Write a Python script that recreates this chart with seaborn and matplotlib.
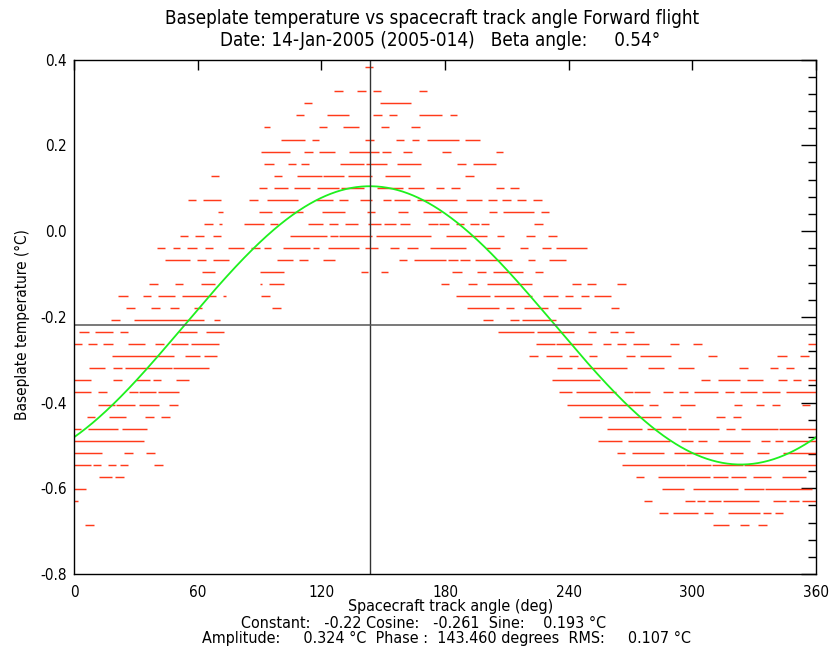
import numpy as np
import pandas as pd
import matplotlib
matplotlib.use("Agg")
import matplotlib.pyplot as plt
import seaborn as sns

# ---------------- data ----------------
# quantized temperature levels (deg C), top to bottom
row_temps = [0.382, 0.354, 0.326, 0.298, 0.270, 0.242, 0.213, 0.185, 0.157, 0.129,
             0.101, 0.073, 0.045, 0.017, -0.011, -0.040, -0.068, -0.096, -0.124, -0.152,
             -0.180, -0.208, -0.236, -0.264, -0.292, -0.320, -0.348, -0.376, -0.405, -0.433,
             -0.461, -0.489, -0.517, -0.545, -0.573, -0.601, -0.630, -0.658, -0.686]

# track-angle spans (deg) occupied by samples at each level
row_spans = [
    [(141.1, 145.0)],
    [],
    [(126.1, 130.5), (137.3, 141.6), (145.0, 148.9), (167.3, 171.2)],
    [(111.6, 115.4), (148.4, 163.4)],
    [(107.7, 111.6), (122.7, 133.4), (145.0, 149.4), (152.8, 156.7), (167.3, 178.5), (182.4, 185.8)],
    [(92.2, 95.1), (118.8, 122.7), (130.5, 138.2), (148.9, 152.8), (163.4, 167.8)],
    [(100.4, 112.0), (115.4, 118.8), (141.1, 145.5), (156.2, 160.1), (163.9, 167.3), (171.2, 186.7), (189.6, 196.9)],
    [(90.7, 104.8), (111.6, 115.9), (118.8, 126.6), (133.4, 147.9), (149.4, 153.7), (159.6, 163.9), (178.5, 182.8), (204.7, 208.1)],
    [(92.2, 97.0), (103.8, 107.7), (110.1, 114.0), (129.0, 140.7), (141.6, 151.8), (156.7, 168.3), (185.8, 190.1), (193.5, 204.7)],
    [(66.4, 70.3), (97.0, 100.9), (108.2, 120.3), (120.8, 131.0), (132.9, 144.5), (150.8, 163.0), (189.6, 194.0)],
    [(89.7, 93.6), (97.0, 103.8), (106.7, 114.5), (117.9, 128.5), (129.5, 140.7), (147.0, 159.6), (162.0, 169.8), (175.6, 179.5), (182.8, 187.2), (204.7, 208.6), (211.5, 215.8)],
    [(55.3, 59.2), (62.6, 71.3), (84.9, 89.2), (93.6, 108.6), (117.4, 125.6), (128.5, 132.9), (138.7, 144.5), (149.9, 153.7), (155.2, 163.0), (166.4, 185.8), (190.1, 197.9), (200.8, 205.2), (207.6, 211.9), (214.9, 219.2), (222.6, 227.0)],
    [(69.8, 72.3), (89.7, 96.0), (99.9, 111.1), (120.3, 131.4), (142.1, 146.0), (157.1, 162.0), (169.3, 178.0), (181.9, 190.6), (201.3, 205.2), (208.1, 223.1), (226.5, 230.4)],
    [(63.1, 67.4), (70.3, 71.8), (82.5, 92.2), (95.1, 99.0), (113.5, 120.8), (123.7, 128.0), (131.4, 137.7), (142.6, 148.9), (150.4, 156.2), (158.1, 163.0), (171.7, 176.5), (177.0, 181.9), (185.3, 189.2), (192.0, 196.4), (197.4, 201.3), (223.1, 227.5)],
    [(51.4, 55.3), (58.7, 63.1), (67.4, 71.3), (104.8, 122.7), (124.2, 128.0), (128.5, 144.5), (146.5, 173.1), (180.4, 200.3), (205.2, 208.6), (219.2, 223.6), (229.9, 234.3)],
    [(40.3, 44.1), (48.0, 51.4), (54.8, 59.7), (63.5, 67.4), (74.7, 82.5), (85.8, 90.2), (92.2, 95.5), (101.4, 114.5), (115.9, 118.8), (123.2, 138.2), (141.1, 147.4), (153.3, 157.6), (161.5, 166.8), (172.7, 190.1), (199.8, 206.6), (216.3, 220.2), (227.0, 231.4), (233.8, 248.8)],
    [(44.1, 56.3), (59.7, 64.0), (67.4, 75.2), (98.5, 106.2), (109.1, 113.5), (120.8, 126.6), (157.6, 161.5), (164.9, 180.4), (181.4, 186.2), (187.2, 192.1), (194.5, 212.4), (220.2, 223.6), (230.4, 238.6)],
    [(62.1, 68.4), (90.2, 101.9), (139.2, 142.6), (148.9, 152.3), (183.3, 188.2), (195.5, 199.8), (203.2, 217.8), (223.6, 227.5)],
    [(36.4, 40.7), (49.0, 52.9), (61.6, 68.4), (90.2, 91.2), (94.6, 101.9), (178.0, 181.9), (191.1, 195.5), (200.3, 222.1), (241.5, 245.9), (248.8, 253.2), (263.4, 267.7)],
    [(21.3, 26.2), (33.5, 37.3), (40.7, 49.0), (52.4, 68.9), (72.3, 73.7), (90.7, 95.1), (185.3, 201.8), (203.7, 222.1), (227.5, 234.7), (238.1, 242.0), (245.9, 249.8), (252.2, 260.4)],
    [(25.2, 29.6), (37.3, 41.7), (46.6, 50.9), (58.2, 62.1), (96.0, 100.4), (190.6, 206.1), (209.5, 213.4), (218.3, 229.9), (234.7, 245.9), (260.4, 264.3)],
    [(17.9, 22.3), (29.1, 63.1), (67.9, 70.8), (198.4, 203.2), (211.5, 215.8), (217.3, 233.8)],
    [(2.4, 7.3), (10.2, 18.9), (22.3, 26.2), (50.9, 59.7), (64.0, 72.8), (205.6, 223.1), (224.6, 242.5), (249.3, 253.2), (260.0, 263.8), (267.2, 271.6)],
    [(0.0, 3.9), (6.8, 11.2), (14.1, 18.9), (26.2, 34.4), (39.3, 43.7), (47.0, 55.3), (56.7, 70.3), (224.1, 233.3), (233.8, 251.2), (256.6, 260.4), (263.4, 267.7), (271.1, 278.8), (289.1, 293.4), (300.2, 304.6), (356.0, 359.9)],
    [(18.4, 48.5), (53.8, 61.1), (63.1, 69.4), (220.7, 225.0), (228.9, 236.7), (240.1, 244.4), (249.8, 253.7), (267.7, 272.1), (274.5, 289.5), (307.5, 311.9), (341.0, 345.8), (352.1, 356.5)],
    [(7.3, 15.0), (18.9, 23.3), (24.7, 47.5), (48.0, 65.5), (234.3, 241.5), (244.0, 268.2), (278.4, 286.2), (293.0, 300.7), (322.6, 327.0), (337.6, 341.4), (345.3, 349.2)],
    [(0.0, 8.2), (18.9, 23.3), (30.1, 36.9), (38.3, 42.2), (49.5, 55.8), (231.8, 255.1), (304.1, 308.5), (312.3, 323.0), (326.4, 334.2), (341.4, 345.8), (348.7, 352.6), (356.0, 360.0)],
    [(0.0, 8.2), (11.6, 16.0), (26.7, 31.0), (31.5, 39.8), (40.7, 50.9), (235.2, 241.5), (243.5, 262.9), (266.8, 271.1), (271.6, 279.4), (285.7, 290.5), (293.4, 297.8), (300.7, 312.3), (315.7, 320.1), (323.0, 331.3), (333.7, 342.4), (345.3, 360.0)],
    [(11.6, 19.9), (20.4, 29.6), (31.5, 41.2), (46.1, 50.4), (239.1, 276.0), (278.9, 283.3), (293.9, 301.2), (320.1, 324.0), (330.8, 334.7), (338.5, 342.4), (353.1, 357.0)],
    [(6.3, 10.2), (17.0, 25.2), (34.4, 38.8), (42.2, 46.6), (244.9, 256.1), (259.0, 284.7), (290.0, 294.4), (311.4, 315.7), (319.6, 323.5)],
    [(0.0, 3.4), (6.8, 21.3), (23.3, 35.4), (258.5, 275.5), (277.9, 296.8), (297.8, 312.8), (316.2, 320.6), (323.5, 341.4), (341.9, 360.0)],
    [(0.0, 34.0), (254.1, 265.8), (268.7, 289.1), (294.4, 300.2), (302.6, 307.0), (312.3, 327.8), (333.2, 337.6), (340.0, 343.9), (345.8, 360.0)],
    [(0.0, 13.6), (24.3, 28.6), (34.9, 39.3), (263.4, 267.2), (270.6, 286.2), (291.0, 314.8), (318.2, 324.5), (331.3, 337.1), (343.9, 360.0)],
    [(0.0, 8.2), (9.2, 13.1), (16.5, 20.4), (22.3, 26.2), (38.8, 43.2), (265.8, 296.3), (296.8, 308.9), (309.4, 324.5), (325.0, 360.0)],
    [(12.1, 18.4), (19.9, 24.3), (272.6, 276.5), (283.3, 308.5), (309.9, 317.2), (318.6, 325.9), (329.3, 338.0), (343.4, 355.0)],
    [(0.0, 5.8), (285.2, 295.8), (300.2, 322.0), (324.9, 334.7), (335.1, 357.9)],
    [(0.0, 1.9), (276.5, 280.3), (296.3, 301.2), (302.2, 306.0), (307.5, 313.8), (314.8, 332.2), (339.0, 345.3), (346.8, 351.6), (353.1, 360.0)],
    [(283.7, 288.1), (290.5, 302.6), (305.6, 310.0), (317.2, 332.7), (334.2, 338.0), (340.0, 343.9)],
    [(5.3, 9.7), (309.9, 317.7), (323.0, 327.4), (331.7, 336.1)],
]

# fit coefficients (from the annotation)
fit_constant = -0.22
fit_cosine = -0.261
fit_sine = 0.193
fit_phase = 143.460

x_ticks = [0, 60, 120, 180, 240, 300, 360]
y_ticks = [0.4, 0.2, 0.0, -0.2, -0.4, -0.6, -0.8]

title_line1 = "Baseplate temperature vs spacecraft track angle Forward flight"
title_line2 = "Date: 14-Jan-2005 (2005-014)   Beta angle:     0.54°"
x_label = "Spacecraft track angle (deg)"
y_label = "Baseplate temperature (°C)"
info_line1 = "Constant:   -0.22 Cosine:   -0.261  Sine:    0.193 °C"
info_line2 = "Amplitude:     0.324 °C  Phase :  143.460 degrees  RMS:     0.107 °C"

# ---------------- build tables ----------------
recs = []
seg_id = 0
for temp, spans in zip(row_temps, row_spans):
    for a, b in spans:
        recs.append((seg_id, a, temp))
        recs.append((seg_id, b, temp))
        seg_id += 1
seg_df = pd.DataFrame(recs, columns=["seg", "angle", "temp"])

ang = np.linspace(0, 360, 721)
rad = np.deg2rad(ang)
fit_df = pd.DataFrame({"angle": ang,
                       "temp": fit_constant + fit_cosine * np.cos(rad) + fit_sine * np.sin(rad)})

# ---------------- plot ----------------
sns.set_style("white")
plt.rcParams["font.family"] = ["DejaVu Sans"]
plt.rcParams["font.stretch"] = "condensed"
plt.rcParams["text.color"] = "black"
plt.rcParams["xtick.color"] = "black"
plt.rcParams["ytick.color"] = "black"
plt.rcParams["xtick.labelcolor"] = "black"
plt.rcParams["ytick.labelcolor"] = "black"

W, H = 831, 648
fig = plt.figure(figsize=(W / 100, H / 100), dpi=100)
ax = fig.add_axes([74 / W, 1 - 574 / H, 742 / W, 514.4 / H])

sns.lineplot(data=seg_df, x="angle", y="temp", units="seg", estimator=None, sort=False,
             color="#ff3a1a", linewidth=1.05, ax=ax, solid_capstyle="butt")
sns.lineplot(data=fit_df, x="angle", y="temp", color="#1ef01e", linewidth=1.3, ax=ax)

ax.axvline(fit_phase, color="#333333", linewidth=1.0)
ax.axhline(fit_constant, color="#555555", linewidth=1.1)

ax.set_xlim(0, 360)
ax.set_ylim(-0.8, 0.4)
ax.set_xticks(x_ticks)
ax.set_xticklabels([str(t) for t in x_ticks])
ax.set_yticks(y_ticks)
ax.set_yticklabels([f"{t:.1f}" for t in y_ticks])
ax.set_yticks(np.arange(-0.8, 0.41, 0.04), minor=True)
ax.tick_params(axis="both", which="both", direction="in", top=True, right=True,
               color="black", labelsize=11, width=1.0)
ax.tick_params(axis="x", which="major", length=7.5, pad=8)
ax.tick_params(axis="y", which="major", length=11, pad=5)
ax.tick_params(axis="y", which="minor", length=5.5)
for s in ax.spines.values():
    s.set_visible(True)
    s.set_color("black")
    s.set_linewidth(1.0)
ax.set_xlabel("")
ax.set_ylabel("")

fig.text(432 / W, 1 - 19 / H, title_line1, ha="center", va="center", fontsize=13.5)
fig.text(440 / W, 1 - 40 / H, title_line2, ha="center", va="center", fontsize=13.5)
fig.text(22 / W, 1 - 325 / H, y_label, rotation=90, ha="center", va="center", fontsize=11)
fig.text(451 / W, 1 - 607 / H, x_label, ha="center", va="center", fontsize=11.5)
fig.text(424 / W, 1 - 623 / H, info_line1, ha="center", va="center", fontsize=11.5)
fig.text(446 / W, 1 - 638 / H, info_line2, ha="center", va="center", fontsize=11.5)

fig.savefig("out.png", dpi=100)
